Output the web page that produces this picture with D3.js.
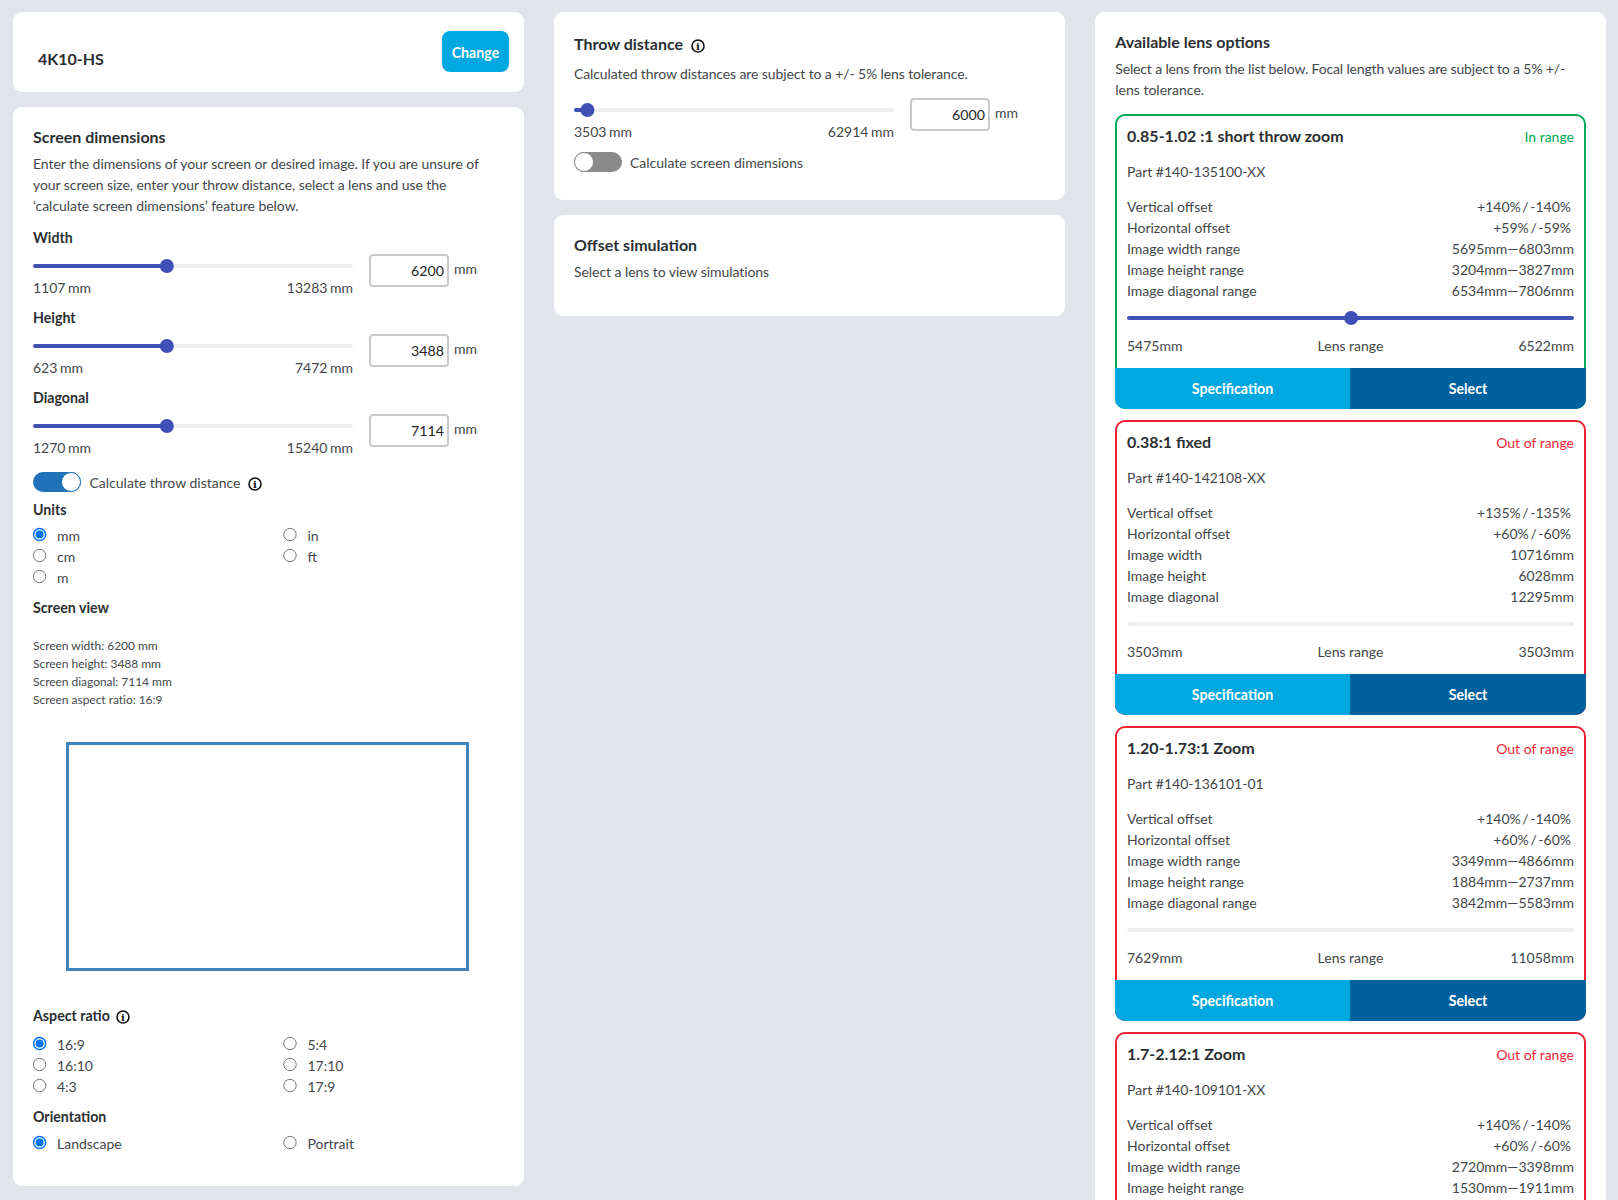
<!DOCTYPE html>
<html><head><meta charset="utf-8">
<script src="https://cdnjs.cloudflare.com/ajax/libs/d3/7.8.5/d3.min.js"></script>
<style>
html,body{margin:0;padding:0;background:#e1e5ea;overflow:hidden}
svg{display:block}
text{font-family:Lato,"Open Sans",sans-serif;font-kerning:normal}
</style></head><body><svg id="c" width="1618" height="1200"></svg>
<script>
// ---- data ----
const projectorName = "4K10-HS";
const dimensionLabels = ["Width","Height","Diagonal"];
const dimensionMin = [1107,623,1270];
const dimensionMax = [13283,7472,15240];
const dimensionValue = [6200,3488,7114];
const unitOptions = [["mm","in"],["cm","ft"],["m",""]];
const aspectOptions = [["16:9","5:4"],["16:10","17:10"],["4:3","17:9"]];
const orientationOptions = [["Landscape","Portrait"]];
const screenFacts = ["Screen width: 6200 mm","Screen height: 3488 mm","Screen diagonal: 7114 mm","Screen aspect ratio: 16:9"];
const throwMin = 3503, throwMax = 62914, throwValue = 6000;
const lensNames = ["0.85-1.02 :1 short throw zoom","0.38:1 fixed","1.20-1.73:1 Zoom","1.7-2.12:1 Zoom"];
const lensParts = ["Part #140-135100-XX","Part #140-142108-XX","Part #140-136101-01","Part #140-109101-XX"];
const lensStatus = ["In range","Out of range","Out of range","Out of range"];
const lensVertical = ["+140% / -140%","+135% / -135%","+140% / -140%","+140% / -140%"];
const lensHorizontal = ["+59% / -59%","+60% / -60%","+60% / -60%","+60% / -60%"];
const lensWidth = ["5695mm—6803mm","10716mm","3349mm—4866mm","2720mm—3398mm"];
const lensHeight = ["3204mm—3827mm","6028mm","1884mm—2737mm","1530mm—1911mm"];
const lensDiagonal = ["6534mm—7806mm","12295mm","3842mm—5583mm",""];
const lensMin = [5475,3503,7629,null];
const lensMax = [6522,3503,11058,null];

// ---- colours ----
const INK="#2b2f33", BODY="#43474b", BLUE="#3f51b5", TRACK="#eeeeee", CYAN="#00a8e1", NAVY="#00619f";
const svg = d3.select("#c");
const T=(g,s,x,y,o={})=>g.append("text").attr("x",x).attr("y",y).attr("font-size",o.size||14)
  .attr("font-weight",o.weight||400).attr("fill",o.fill||BODY).attr("text-anchor",o.anchor||"start")
  .style("letter-spacing",o.ls?o.ls+"px":null).style("word-spacing",o.ws?o.ws+"px":null).text(s);
const H=(g,s,x,y,size=16)=>T(g,s,x,y,{size,weight:700,fill:INK});
const LAB={size:14.2,weight:700,fill:INK};
const card=(x,y,w,h)=>svg.append("rect").attr("x",x).attr("y",y).attr("width",w).attr("height",h).attr("rx",9).attr("fill","#fff");

function slider(g,x0,x1,y,lo,hi,val,state){
  const sx=d3.scaleLinear().domain([lo,hi]).range([x0,x1]);
  const seg=(a,b,c)=>g.append("line").attr("x1",a+2).attr("x2",b-2).attr("y1",y).attr("y2",y).attr("stroke",c).attr("stroke-width",4).attr("stroke-linecap","round");
  seg(x0,x1,state==="full"?BLUE:TRACK);
  if(state==="part") seg(x0,sx(val)+2,BLUE);
  if(state) g.append("circle").attr("cx",sx(val)).attr("cy",y).attr("r",7).attr("fill",BLUE);
  return sx;
}
function input(g,x,y,val){
  g.append("rect").attr("x",x+1).attr("y",y+1).attr("width",78).attr("height",31).attr("rx",3).attr("fill","#fff").attr("stroke","#c9c9c9").attr("stroke-width",2);
  T(g,val,x+75,y+22,{size:14.2,anchor:"end",fill:"#1f1f1f"});
  T(g,"mm",x+85,y+20,{size:14});
}
function toggle(g,x,y,on){
  g.append("rect").attr("x",x).attr("y",y).attr("width",48).attr("height",20).attr("rx",10).attr("fill",on?"#1f72b8":"#8a8a8a");
  g.append("circle").attr("cx",on?x+38:x+10).attr("cy",y+10).attr("r",9.5).attr("fill","#fff").attr("stroke",on?"#1f72b8":"#8a8a8a").attr("stroke-width",1);
}
function info(g,cx,cy){
  g.append("circle").attr("cx",cx).attr("cy",cy).attr("r",6).attr("fill","#fff").attr("stroke","#111").attr("stroke-width",1.6);
  g.append("text").attr("x",cx).attr("y",cy+3.6).attr("text-anchor","middle").attr("font-size",10).attr("font-weight",700).attr("fill","#111").style("font-family","'DejaVu Serif'").text("i");
}
function radios(g,rows,y0){
  rows.forEach((row,r)=>row.forEach((lab,c)=>{
    if(!lab) return;
    const cx=c?290:39.6, cy=y0+r*21-0.5, on=(r===0&&c===0);
    g.append("circle").attr("cx",cx).attr("cy",cy).attr("r",on?6:6.2).attr("fill","#fff").attr("stroke",on?"#0075ff":"#767676").attr("stroke-width",on?1.5:1);
    if(on) g.append("circle").attr("cx",cx).attr("cy",cy).attr("r",4).attr("fill","#0075ff");
    T(g,lab,c?307.5:57,cy+6.5,{size:14});
  }));
}

// ---- top-left card ----
card(13,12,511,80);
T(svg,projectorName,38,65,{size:16,weight:700,fill:INK});
svg.append("rect").attr("x",442).attr("y",31).attr("width",67).attr("height",41).attr("rx",8).attr("fill",CYAN);
T(svg,"Change",475.5,57.5,{size:14.2,weight:700,fill:"#fff",anchor:"middle"});

// ---- screen dimensions ----
card(13,107,511,1079);
const L=svg.append("g");
H(L,"Screen dimensions",33,143);
[["Enter the dimensions of your screen or desired image. If you are unsure of",-0.055],
 ["your screen size, enter your throw distance, select a lens and use the",-0.07],
 ["‘calculate screen dimensions’ feature below.",-0.04]].forEach((s,i)=>T(L,s[0],33,169+i*21,{ls:s[1]}));
dimensionLabels.forEach((lab,i)=>{
  const dy=i*80;
  T(L,lab,33,243+dy,LAB);
  slider(L,33,353,266+dy,dimensionMin[i],dimensionMax[i],dimensionValue[i],"part");
  T(L,dimensionMin[i]+" mm",33,293+dy,{ws:-1});
  T(L,dimensionMax[i]+" mm",353,293+dy,{anchor:"end",ws:-1});
  input(L,369,254+dy,String(dimensionValue[i]));
});
toggle(L,33,472,true);
T(L,"Calculate throw distance",89.5,488);
info(L,255,484);
T(L,"Units",33,515,LAB);
radios(L,unitOptions,535);
T(L,"Screen view",33,613,LAB);
screenFacts.forEach((s,i)=>T(L,s,33,650+i*18,{size:12,ls:-0.03}));
const sw=d3.scaleLinear().domain([0,dimensionValue[0]]).range([0,400]);
L.append("rect").attr("x",67.5).attr("y",743.5).attr("width",sw(dimensionValue[0])).attr("height",226)
  .attr("fill","#fff").attr("stroke","#3f83bf").attr("stroke-width",3);
T(L,"Aspect ratio",33,1021,LAB);
info(L,123,1017);
radios(L,aspectOptions,1044);
T(L,"Orientation",33,1122,LAB);
radios(L,orientationOptions,1143);

// ---- middle ----
card(554,12,511,188);
card(554,215,511,101);
const M=svg.append("g");
H(M,"Throw distance",574,50);
info(M,698,46);
T(M,"Calculated throw distances are subject to a +/- 5% lens tolerance.",574,79,{ls:-0.11});
slider(M,574,894,110,throwMin,throwMax,throwValue,"part");
T(M,throwMin+" mm",574,137,{ws:-1});
T(M,throwMax+" mm",894,137,{anchor:"end",ws:-1});
input(M,910,98,String(throwValue));
toggle(M,574,152,false);
T(M,"Calculate screen dimensions",630,168);
H(M,"Offset simulation",574,250.5);
T(M,"Select a lens to view simulations",574,277,{ls:-0.06});

// ---- right ----
svg.append("rect").attr("x",1095).attr("y",12).attr("width",511).attr("height",1200).attr("rx",9).attr("fill","#fff");
const R=svg.append("g");
H(R,"Available lens options",1115.3,48);
T(R,"Select a lens from the list below. Focal length values are subject to a 5% +/-",1115.3,74,{ls:-0.15});
T(R,"lens tolerance.",1115.3,95);
const defs=svg.append("defs");
lensNames.forEach((name,i)=>{
  const top=114+i*306, inRange=lensStatus[i]==="In range", col=inRange?"#00ab55":"#f21f35";
  const g=R.append("g");
  defs.append("clipPath").attr("id","clip"+i).append("rect").attr("x",1115).attr("y",top).attr("width",471).attr("height",295).attr("rx",10);
  g.append("rect").attr("x",1116).attr("y",top+1).attr("width",469).attr("height",293).attr("rx",9).attr("fill","#fff").attr("stroke",col).attr("stroke-width",2);
  T(g,name,1127,top+28,{size:16,weight:700,fill:INK});
  T(g,lensStatus[i],1574,top+28,{size:14,fill:col,anchor:"end"});
  T(g,lensParts[i],1127,top+63);
  const fixed=lensMin[i]!==null&&lensMin[i]===lensMax[i];
  const sfx=fixed?"":" range";
  const rows=[["Vertical offset",lensVertical[i],1571],["Horizontal offset",lensHorizontal[i],1571],
    ["Image width"+sfx,lensWidth[i],1574],["Image height"+sfx,lensHeight[i],1574],["Image diagonal"+sfx,lensDiagonal[i],1574]];
  rows.forEach((r,k)=>{
    if(!r[1]) return;
    T(g,r[0],1127,top+98+k*21);
    T(g,r[1],r[2],top+98+k*21,{anchor:"end",ws:k<2?-2:0});
  });
  if(lensMin[i]!==null){
    slider(g,1127,1574,top+204,lensMin[i],lensMax[i],throwValue,inRange?"full":null);
    T(g,lensMin[i]+"mm",1127,top+237);
    T(g,"Lens range",1350.5,top+237,{anchor:"middle"});
    T(g,lensMax[i]+"mm",1574,top+237,{anchor:"end"});
    const b=g.append("g").attr("clip-path",`url(#clip${i})`);
    b.append("rect").attr("x",1115).attr("y",top+254).attr("width",235).attr("height",41).attr("fill",CYAN);
    b.append("rect").attr("x",1350).attr("y",top+254).attr("width",236).attr("height",41).attr("fill",NAVY);
    T(g,"Specification",1232.5,top+280,{size:14.2,weight:700,fill:"#fff",anchor:"middle"});
    T(g,"Select",1468,top+280,{size:14.2,weight:700,fill:"#fff",anchor:"middle"});
  }
});
</script></body></html>
